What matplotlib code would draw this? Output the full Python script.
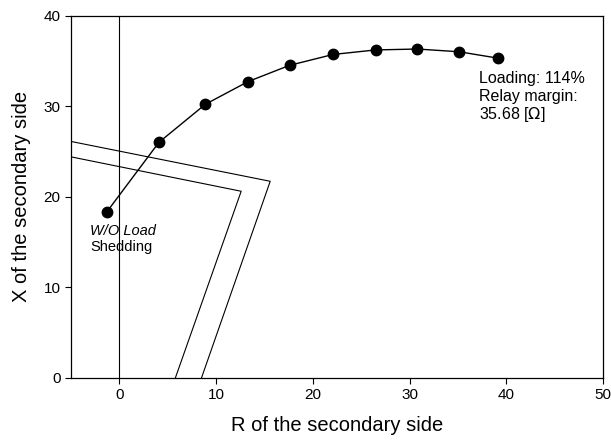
import matplotlib
matplotlib.use("Agg")
import matplotlib.pyplot as plt

plt.rcParams['font.family'] = ['Liberation Sans', 'DejaVu Sans']

# Impedance trajectory (R, X) on the secondary side
r_traj = [-1.3, 4.1, 8.9, 13.3, 17.6, 22.1, 26.5, 30.8, 35.1, 39.1]
x_traj = [18.3, 26.0, 30.2, 32.7, 34.5, 35.7, 36.2, 36.3, 36.0, 35.3]

# Relay characteristic boundaries
outer_r = [-5.0, 15.6, 8.5]
outer_x = [26.1, 21.7, 0.0]
inner_r = [-5.0, 12.6, 5.8]
inner_x = [24.4, 20.6, 0.0]

xticks = [0, 10, 20, 30, 40, 50]
yticks = [0, 10, 20, 30, 40]

fig = plt.figure(figsize=(6.11, 4.43), dpi=100)
ax = fig.add_axes([0.116, 0.147, 0.871, 0.818])

ax.axvline(0, color='black', lw=0.8)
ax.plot(outer_r, outer_x, color='black', lw=0.8)
ax.plot(inner_r, inner_x, color='black', lw=0.8)
ax.plot(r_traj, x_traj, color='black', lw=1.0, marker='o', ms=7.5, mfc='black', mec='black')

ax.set_xlim(-5, 50)
ax.set_ylim(0, 40)
ax.set_xticks(xticks)
ax.set_yticks(yticks)
ax.tick_params(direction='out', length=4, width=0.8, labelsize=11, colors='black')
for s in ax.spines.values():
    s.set_linewidth(0.9)

ax.set_xlabel('R of the secondary side', fontsize=14.5, labelpad=10)
ax.set_ylabel('X of the secondary side', fontsize=14.5, labelpad=9)

ax.text(-3.0, 16.2, 'W/O Load', fontsize=10.5, style='italic', va='center', ha='left')
ax.text(-3.0, 14.5, 'Shedding', fontsize=10.5, va='center', ha='left')

ax.text(37.2, 33.1, 'Loading: 114%', fontsize=11.5, va='center', ha='left')
ax.text(37.2, 31.1, 'Relay margin:', fontsize=11.5, va='center', ha='left')
ax.text(37.2, 29.1, '35.68 [$\\Omega$]', fontsize=11.5, va='center', ha='left')

fig.savefig('out.png', dpi=100)
